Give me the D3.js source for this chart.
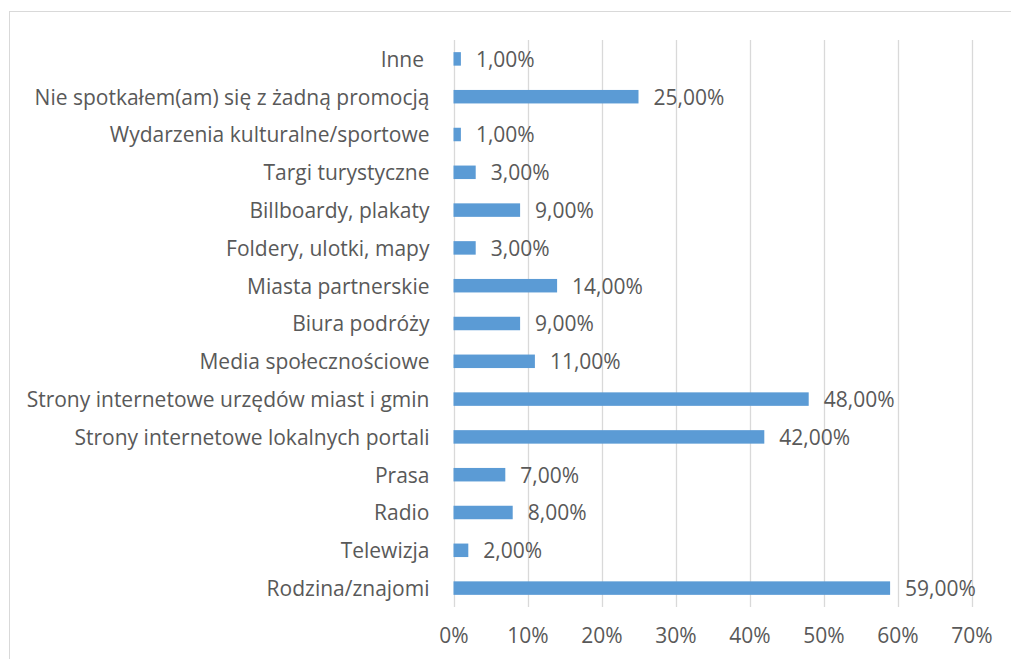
<!DOCTYPE html>
<html>
<head>
<meta charset="utf-8">
<script src="https://cdn.jsdelivr.net/npm/d3@7"></script>
<style>
  html, body { margin: 0; padding: 0; background: #fff; }
  svg { display: block; }
  text { font-family: "Open Sans", "Noto Sans", sans-serif; fill: #595959; white-space: pre; }
</style>
</head>
<body>
<svg id="chart" width="1011" height="659"></svg>
<script>
// Sources of information about promotions (share of respondents), top to bottom
const categories = [
  "Inne ",
  "Nie spotkałem(am) się z żadną promocją",
  "Wydarzenia kulturalne/sportowe",
  "Targi turystyczne",
  "Billboardy, plakaty",
  "Foldery, ulotki, mapy",
  "Miasta partnerskie",
  "Biura podróży",
  "Media społecznościowe",
  "Strony internetowe urzędów miast i gmin",
  "Strony internetowe lokalnych portali",
  "Prasa",
  "Radio",
  "Telewizja",
  "Rodzina/znajomi"
];
const values = [0.01, 0.25, 0.01, 0.03, 0.09, 0.03, 0.14, 0.09, 0.11, 0.48, 0.42, 0.07, 0.08, 0.02, 0.59];
const xTicks = [0, 0.1, 0.2, 0.3, 0.4, 0.5, 0.6, 0.7];

const svg = d3.select("#chart");
const W = 1011, H = 659;
const FONT = "21px";

// Chart-area frame (runs off the right and bottom edges)
svg.append("rect")
  .attr("x", 9.5).attr("y", 11.5)
  .attr("width", W + 20).attr("height", H + 20)
  .attr("fill", "#fff")
  .attr("stroke", "#d9d9d9").attr("stroke-width", 1);

const plot = { left: 453.5, right: 971.5, top: 40, bottom: 607 };

const x = d3.scaleLinear().domain([0, 0.7]).range([plot.left, plot.right]);
const gap = 0.643;
const y = d3.scaleBand()
  .domain(categories)
  .range([plot.top, plot.bottom])
  .paddingInner(gap)
  .paddingOuter(gap / 2);

const pct = d3.format(".0%");
const valFmt = v => (v * 100).toFixed(2).replace(".", ",") + "%";

// Vertical gridlines
svg.append("g")
  .selectAll("line")
  .data(xTicks)
  .join("line")
  .attr("x1", d => Math.round(x(d)) + 0.5)
  .attr("x2", d => Math.round(x(d)) + 0.5)
  .attr("y1", plot.top)
  .attr("y2", plot.bottom)
  .attr("stroke", "#d9d9d9")
  .attr("stroke-width", 1.3);

// X axis labels
const xAxis = d3.axisBottom(x).tickValues(xTicks).tickFormat(pct).tickSize(0).tickPadding(0);
const gx = svg.append("g")
  .attr("transform", `translate(0,643)`)
  .call(xAxis);
gx.select(".domain").remove();
gx.selectAll("text")
  .attr("dy", null)
  .attr("y", 0)
  .style("font-size", FONT)
  .style("font-family", "\"Open Sans\", sans-serif")
  .attr("fill", "#595959");

// Category labels
const yAxis = d3.axisLeft(y).tickSize(0).tickPadding(24);
const gy = svg.append("g")
  .attr("transform", `translate(${plot.left},0)`)
  .call(yAxis);
gy.select(".domain").remove();
gy.selectAll("text")
  .attr("dy", "0.38em")
  .attr("xml:space", "preserve")
  .style("font-size", FONT)
  .style("font-family", "\"Open Sans\", sans-serif")
  .attr("fill", "#595959");

// Bars
svg.append("g")
  .selectAll("rect")
  .data(categories)
  .join("rect")
  .attr("x", x(0))
  .attr("y", d => y(d))
  .attr("width", (d, i) => x(values[i]) - x(0))
  .attr("height", y.bandwidth())
  .attr("fill", "#5b9bd5");

// Value labels
svg.append("g")
  .selectAll("text")
  .data(categories)
  .join("text")
  .attr("x", (d, i) => x(values[i]) + 15)
  .attr("y", d => y(d) + y.bandwidth() / 2)
  .attr("dy", "0.38em")
  .style("font-size", FONT)
  .text((d, i) => valFmt(values[i]));
</script>
</body>
</html>
